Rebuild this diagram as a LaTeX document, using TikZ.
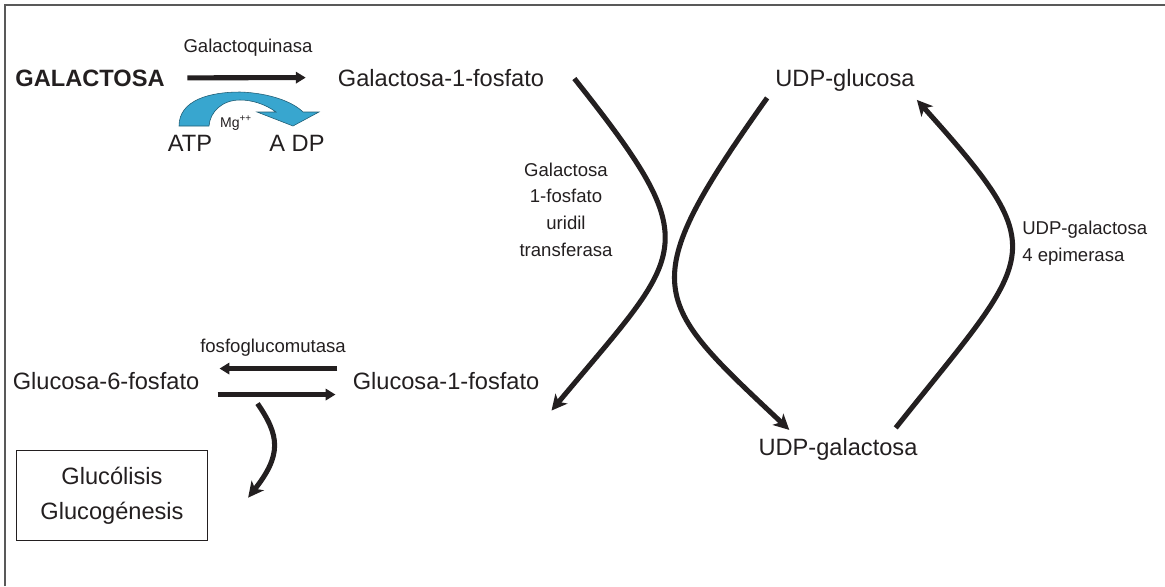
\documentclass[tikz,border=0pt]{standalone}
\usepackage{fontspec}
\setmainfont{Liberation Sans}
\usetikzlibrary{arrows.meta}

\definecolor{tinta}{HTML}{231F20}
\definecolor{atpazul}{HTML}{38A6CF}

\begin{document}
\begin{tikzpicture}[x=0.025cm, y=-0.025cm, color=tinta,
    met/.style={inner sep=0, anchor=base, font=\fontsize{16.8}{20}\selectfont},
    enz/.style={inner sep=0, anchor=base, font=\fontsize{13.2}{19}\selectfont},
    flecha/.style={line width=3.6pt, -{Triangle[length=7pt,width=8pt]}},
    curva/.style={line width=3.6pt, -{Stealth[length=11pt,width=11pt,inset=3pt]}}]
    \useasboundingbox (0,0) rectangle (1165,586);
    \draw[line width=1.5pt, black!65] (5,586) -- (5,5) -- (1165,5);

    \node (galactosa) at (90, 86) [met, font=\fontsize{16.8}{20}\selectfont\bfseries] {GALACTOSA};
    \node (gal1p) at (441, 86) [met] {Galactosa-1-fosfato};
    \node (udpglc) at (845, 86) [met] {UDP-glucosa};
    \node (udpgal) at (838, 455) [met] {UDP-galactosa};
    \node (glc1p) at (446, 389) [met] {Glucosa-1-fosfato};
    \node (glc6p) at (106, 389) [met] {Glucosa-6-fosfato};
    \node (atp) at (190, 151) [met] {ATP};
    \node (adp) at (297, 151) [met] {A DP};
    \node (galquin) at (248, 52) [enz] {Galactoquinasa};
    \node (fosfoglu) at (273, 352) [enz] {fosfoglucomutasa};
    \node (uridil) at (566, 209.5) [enz, anchor=center, align=center] {Galactosa\\1-fosfato\\uridil\\transferasa};
    \node (epimer) at (1022, 243) [enz, anchor=west, align=left] {UDP-galactosa\\4 epimerasa};
    \node (glucolisis) at (112, 495.5) [draw, line width=0.7pt, minimum width=136pt, minimum height=64.5pt,
        align=center, font=\fontsize{16.8}{24.8}\selectfont] {Glucólisis\\Glucogénesis};

    \filldraw[fill=atpazul, draw=atpazul!55!black, line width=0.4pt]
        (179,126) .. controls (179,100) and (210,92) .. (240,92)
        .. controls (270,93) and (293,102) .. (303,112) -- (319,112) -- (293,126) -- (257,112) -- (276,112)
        .. controls (265,104) and (252,100) .. (240,100)
        .. controls (222,100) and (210,112) .. (209,126) -- cycle;
    \node (mg) at (236, 127) [inner sep=0, anchor=base, font=\fontsize{10}{12}\selectfont] {Mg\textsuperscript{++}};

    \draw[flecha, shorten <=16pt, shorten >=22.7pt] (galactosa.east) -- (gal1p.west);
    \draw[flecha] ([shift={(-15,-12)}]glc1p.west) -- ([shift={(20,-12)}]glc6p.east);
    \draw[flecha] ([shift={(18,14)}]glc6p.east) -- ([shift={(-17,14)}]glc1p.west);

    \draw[curva] ([shift={(58,23)}]glc6p.east) .. controls +(22,32) and +(34,-43) .. ([shift={(40,48)}]glucolisis.north east);
    \draw[curva] ([shift={(30,1)}]gal1p.east) .. controls +(135,170) and +(134,-161) .. ([shift={(12,30)}]glc1p.east);
    \draw[curva] ([shift={(-8,18)}]udpglc.west) .. controls +(-135,190) and +(-138,-130) .. ([shift={(31,-19)}]udpgal.west);
    \draw[curva] ([shift={(-22,-21)}]udpgal.east) .. controls +(140,-176) and +(139,155) .. ([shift={(2,20)}]udpglc.east);
\end{tikzpicture}
\end{document}
